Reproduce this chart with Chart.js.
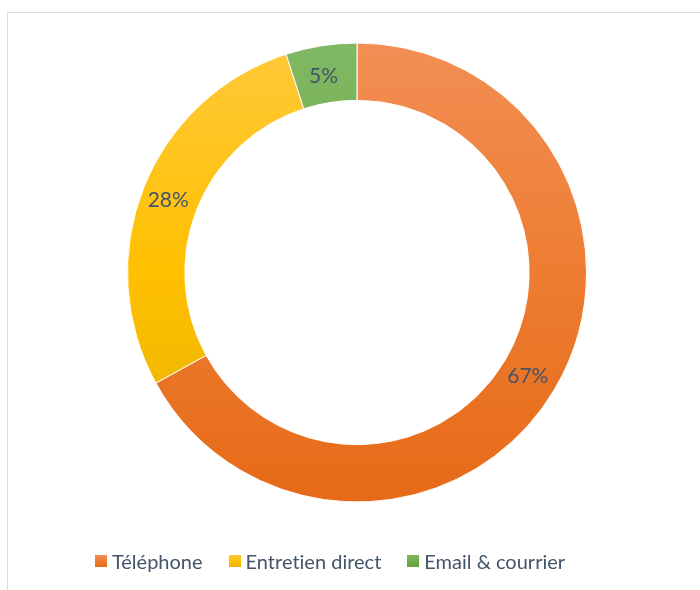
<!DOCTYPE html>
<html>
<head>
<meta charset="utf-8">
<script src="https://cdn.jsdelivr.net/npm/chart.js@4"></script>
<style>
  body { margin: 0; background: #fff; font-family: Lato, "Open Sans", sans-serif; }
  #wrap { position: relative; width: 700px; height: 590px; overflow: hidden; }
  #frame { position: absolute; left: 7px; top: 12px; width: 760px; height: 640px; border: 1.5px solid #d9dfe6; }
  canvas { position: absolute; left: 0; top: 0; }
  #legend { position: absolute; left: 0; width: 660px; top: 549px; display: flex; justify-content: center; gap: 26px; color: #44546a; font-size: 20px; font-variant-ligatures: none; }
  #legend span.item { display: flex; align-items: center; }
  #legend i { display: inline-block; width: 12px; height: 12px; margin-right: 5px; }
</style>
</head>
<body>
<div id="wrap">
  <div id="frame"></div>
  <canvas id="donut" width="700" height="590"></canvas>
  <div id="legend"></div>
</div>
<script>
// categories and shares (%)
const categories = ['Téléphone', 'Entretien direct', 'Email & courrier'];
const shares = [67, 28, 5];
// top / middle / bottom colour of each slice gradient
const topColors = ['#f38e55', '#ffc93a', '#80b864'];
const midColors = ['#ed7d31', '#ffc000', '#70ad47'];
const bottomColors = ['#e66a17', '#e5b200', '#62a437'];

function sliceGradient(context) {
  const { ctx, chartArea } = context.chart;
  const i = context.dataIndex;
  if (!chartArea) {
    return midColors[i];
  }
  const g = ctx.createLinearGradient(0, chartArea.top, 0, chartArea.bottom);
  g.addColorStop(0, topColors[i]);
  g.addColorStop(0.5, midColors[i]);
  g.addColorStop(1, bottomColors[i]);
  return g;
}

// percent labels in the middle of each ring segment
const percentLabels = {
  id: 'percentLabels',
  afterDatasetsDraw(chart) {
    const ctx = chart.ctx;
    ctx.save();
    ctx.font = '21px Lato, "Open Sans", sans-serif';
    ctx.fillStyle = '#44546a';
    ctx.textAlign = 'center';
    ctx.textBaseline = 'middle';
    chart.getDatasetMeta(0).data.forEach((arc, i) => {
      const p = arc.tooltipPosition();
      ctx.fillText(shares[i] + '%', p.x - 2, p.y + 2);
    });
    ctx.restore();
  }
};

new Chart(document.getElementById('donut'), {
  type: 'doughnut',
  data: {
    labels: categories,
    datasets: [{
      data: shares,
      backgroundColor: sliceGradient,
      borderColor: '#ffffff',
      borderWidth: 1
    }]
  },
  options: {
    responsive: false,
    animation: false,
    cutout: '75%',
    layout: { padding: { left: 127, right: 113, top: 42, bottom: 87 } },
    plugins: {
      legend: { display: false },
      tooltip: { enabled: false }
    }
  },
  plugins: [percentLabels]
});

// legend
const legend = document.getElementById('legend');
categories.forEach((name, i) => {
  const item = document.createElement('span');
  item.className = 'item';
  item.innerHTML = '<i style="background:linear-gradient(' + topColors[i] + ',' + midColors[i] + ',' + bottomColors[i] + ')"></i>' + name;
  legend.appendChild(item);
});
</script>
</body>
</html>
